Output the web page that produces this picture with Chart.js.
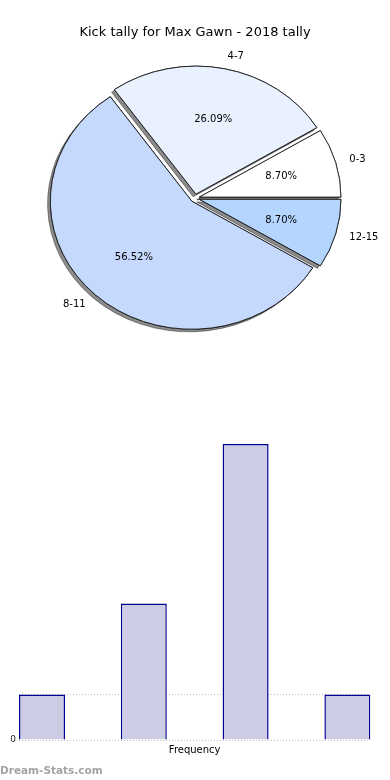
<!DOCTYPE html>
<html>
<head>
<meta charset="utf-8">
<script src="https://cdn.jsdelivr.net/npm/chart.js@4.4.0/dist/chart.umd.min.js"></script>
<style>
  body { margin: 0; background: #fff; width: 390px; height: 780px; position: relative; overflow: hidden; }
  canvas { display: block; }
  #pieBox { position: absolute; left: 0; top: 0; }
  #barBox { position: absolute; left: 0; top: 400px; }
  #mark { position: absolute; left: 0; top: 764px; font: bold 10.5px "DejaVu Sans"; color: #a3a3a3; }
</style>
</head>
<body>
<div id="pieBox"><canvas id="pieChart" width="390" height="400"></canvas></div>
<div id="barBox"><canvas id="barChart" width="390" height="380"></canvas></div>
<div id="mark">Dream-Stats.com</div>
<script>
// Chart data
const chartTitle = "Kick tally for Max Gawn - 2018 tally";
const categories = ["0-3", "4-7", "8-11", "12-15"];
const kicks = [2, 6, 13, 2];
const sliceColors = ["#ffffff", "#eaf1fe", "#c5d9fd", "#b4d5fe"];
const yTicks = [0, 2];
const yTickLabels = ["0", ""];
const xTitle = "Frequency";

const total = kicks.reduce((a, b) => a + b, 0);
const squash = 128 / 141.5;   // pie is drawn as an ellipse
const explode = 4.6;          // px each slice is pulled out

// matplotlib goes counter-clockwise from 3 o'clock, Chart.js clockwise -> reverse
const pieLabels = categories.slice().reverse();
const pieValues = kicks.slice().reverse();
const pieColors = sliceColors.slice().reverse();

// draw the slices ourselves: squashed, pulled out, with a shadow under all of them
const ellipsePie = {
  id: "ellipsePie",
  beforeDatasetDraw(chart) {
    const ctx = chart.ctx;
    const arcs = chart.getDatasetMeta(0).data;
    const cx = arcs[0].x, cy = arcs[0].y;
    const drawAll = () => arcs.forEach(a => {
      const mid = (a.startAngle + a.endAngle) / 2;
      ctx.save();
      ctx.translate(Math.cos(mid) * explode, Math.sin(mid) * explode);
      a.draw(ctx);
      ctx.restore();
    });
    ctx.save();
    ctx.translate(cx, cy);
    ctx.scale(1, squash);
    ctx.translate(-cx, -cy);
    ctx.save();
    ctx.shadowColor = "rgba(0,0,0,0.45)";
    ctx.shadowOffsetX = -2.8;
    ctx.shadowOffsetY = 2.6;
    drawAll();
    ctx.restore();
    drawAll();
    ctx.restore();
    return false;
  },
  afterDatasetsDraw(chart) {
    const ctx = chart.ctx;
    const arcs = chart.getDatasetMeta(0).data;
    ctx.save();
    ctx.fillStyle = "#000";
    ctx.font = '10px "DejaVu Sans"';
    ctx.textBaseline = "middle";
    arcs.forEach((a, i) => {
      const mid = (a.startAngle + a.endAngle) / 2;
      const ax = a.x + Math.cos(mid) * explode;
      const ay = a.y + Math.sin(mid) * explode;
      const r = a.outerRadius;
      const cy = a.y;
      // category label
      const lx = ax + Math.cos(mid) * r * 1.1;
      const ly = cy + (ay + Math.sin(mid) * r * 1.1 - cy) * squash;
      ctx.textAlign = Math.cos(mid) > 0 ? "left" : "right";
      ctx.fillText(pieLabels[i], lx, ly);
      // percentage
      const px = ax + Math.cos(mid) * r * 0.6;
      const py = cy + (ay + Math.sin(mid) * r * 0.6 - cy) * squash;
      ctx.textAlign = "center";
      ctx.fillText((pieValues[i] / total * 100).toFixed(2) + "%", px, py);
    });
    ctx.restore();
  }
};

new Chart(document.getElementById("pieChart"), {
  type: "pie",
  data: {
    labels: pieLabels,
    datasets: [{
      data: pieValues,
      backgroundColor: pieColors,
      borderColor: "#111",
      borderWidth: 0.9,
      radius: 141.5,
      rotation: 90,
      clip: false
    }]
  },
  options: {
    responsive: false,
    animation: false,
    events: [],
    layout: { padding: { bottom: 43.7 } },
    plugins: {
      legend: { display: false },
      tooltip: { enabled: false },
      title: {
        display: true,
        text: chartTitle,
        color: "#000",
        font: { family: "DejaVu Sans", size: 13, weight: "normal" },
        padding: { top: 24.5, bottom: 0 }
      }
    }
  },
  plugins: [ellipsePie]
});

// Histogram-like bars
new Chart(document.getElementById("barChart"), {
  type: "bar",
  data: {
    datasets: [{
      data: kicks.map((v, i) => ({ x: i, y: v })),
      backgroundColor: "#ccccE5",
      borderColor: "#000090",
      borderWidth: 1.5,
      barPercentage: 0.452,
      categoryPercentage: 1
    }]
  },
  options: {
    responsive: false,
    animation: false,
    events: [],
    layout: { padding: { top: 44, right: 19.6, left: 0, bottom: 0 } },
    plugins: { legend: { display: false }, tooltip: { enabled: false } },
    scales: {
      x: {
        type: "linear",
        offset: false,
        min: -0.226,
        max: 3.226,
        afterBuildTicks: s => { s.ticks = kicks.map((v, i) => ({ value: i })); },
        ticks: { display: false },
        grid: { display: false, offset: false },
        border: { display: false },
        title: {
          display: true,
          text: xTitle,
          color: "#000",
          font: { family: "DejaVu Sans", size: 10 },
          padding: { top: 0, bottom: 24 }
        },
        afterFit: s => { s.height = 40; }
      },
      y: {
        min: 0,
        max: 13,
        z: 1,
        afterBuildTicks: s => { s.ticks = yTicks.map(v => ({ value: v })); },
        ticks: {
          callback: (v, i) => yTickLabels[i],
          color: "#222",
          font: { family: "DejaVu Sans", size: 9 },
          padding: 3
        },
        grid: { color: "#bdbdbd", lineWidth: 1, drawTicks: false },
        border: { display: false, dash: [1, 2] },
        afterFit: s => { s.width = 19; }
      }
    }
  }
});
</script>
</body>
</html>
